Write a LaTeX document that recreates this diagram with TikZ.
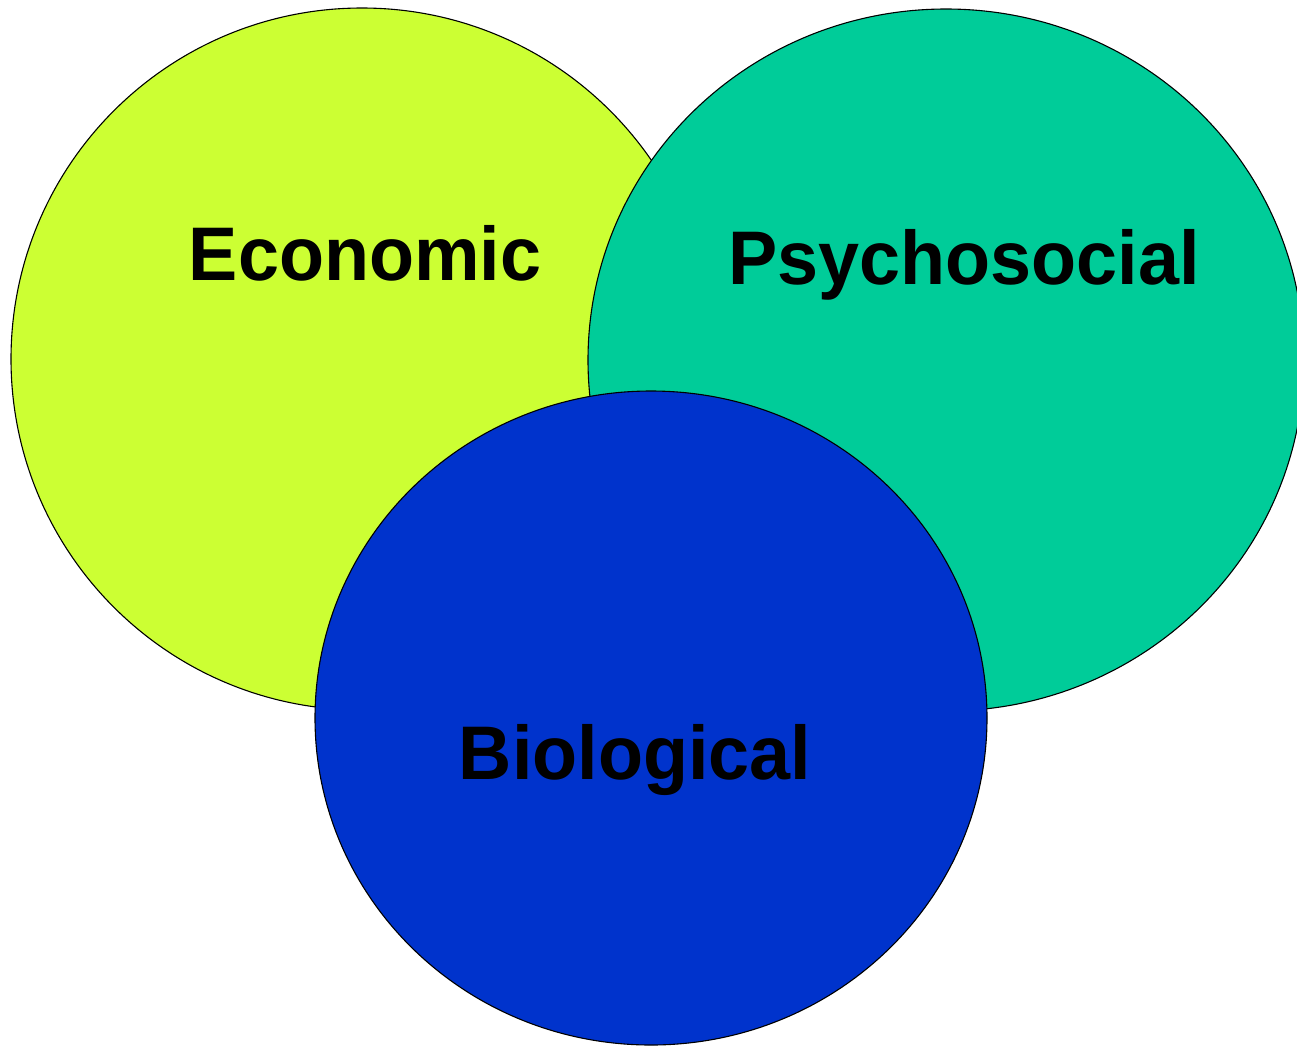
\documentclass[tikz,border=0pt]{standalone}
\usepackage{fontspec}
\usepackage{xcolor}
\usepackage{tikz}
\newfontfamily\vlabelfont[FakeStretch=0.97]{Liberation Sans}
\definecolor{vlime}{HTML}{CCFF33}
\definecolor{vteal}{HTML}{00CC99}
\definecolor{vblue}{HTML}{0033CC}
\tikzset{
  vdisc/.style={draw=black, line width=1.1pt},
  vlabel/.style={anchor=base, inner sep=0pt, text=black,
                 font=\vlabelfont\bfseries\fontsize{76}{80}\selectfont},
}
\begin{document}
\begin{tikzpicture}[x=1pt,y=-1pt]

  \useasboundingbox (0,0) rectangle (1297,1045);
  \clip (0,0) rectangle (1297,1045);

  % --- economic ---
  \draw[vdisc, fill=vlime] (362,359) ellipse [x radius=351pt, y radius=351pt];
  \node[vlabel] (econ) at (365,280) {Economic};

  % --- psychosocial ---
  \draw[vdisc, fill=vteal] (946,360) ellipse [x radius=358pt, y radius=351pt];
  \node[vlabel] (psych) at (964,284) {Psychosocial};

  % --- biological ---
  \draw[vdisc, fill=vblue] (651,718) ellipse [x radius=336pt, y radius=327pt];
  \node[vlabel] (bio) at (635,779) {Biological};

\end{tikzpicture}
\end{document}
